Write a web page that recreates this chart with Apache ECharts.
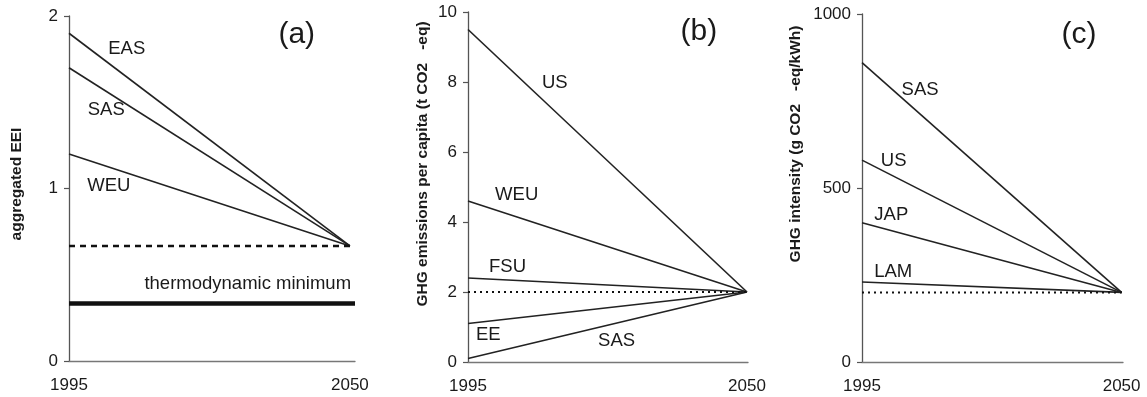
<!DOCTYPE html>
<html>
<head>
<meta charset="utf-8">
<script src="https://cdn.jsdelivr.net/npm/echarts@6/dist/echarts.min.js"></script>
<style>html,body{margin:0;padding:0;background:#fff}#c{width:1147px;height:397px}</style>
</head>
<body>
<div id="c"></div>
<script>
// ---- data ----
const years = [1995, 2050];
const xTickLabels = [1995, 2050];

// panel (a): aggregated EEI
const aNames = ['EAS', 'SAS', 'WEU'];
const aValues = [[1.90, 0.667], [1.70, 0.667], [1.20, 0.667]];
const aTarget = 0.667;
const aThermoMin = 0.333;
const aLabels = [['EAS', 2006.3, 1.81], ['SAS', 2002.3, 1.455], ['WEU', 2002.8, 1.017], ['thermodynamic minimum', 2030, 0.446]];
const aTag = ['(a)', 2039.6, 1.89];

// panel (b): GHG emissions per capita
const bNames = ['US', 'WEU', 'FSU', 'EE', 'SAS'];
const bValues = [[9.5, 2], [4.6, 2], [2.4, 2], [1.1, 2], [0.1, 2]];
const bTarget = 2;
const bLabels = [['US', 2012.1, 7.96], ['WEU', 2004.6, 4.77], ['FSU', 2002.8, 2.72], ['EE', 1999, 0.77], ['SAS', 2024.3, 0.61]];
const bTag = ['(b)', 2040.5, 9.44];

// panel (c): GHG intensity
const cNames = ['SAS', 'US', 'JAP', 'LAM'];
const cValues = [[860, 200], [580, 200], [400, 200], [230, 200]];
const cTarget = 200;
const cLabels = [['SAS', 2007.3, 782], ['US', 2001.7, 579], ['JAP', 2001.2, 423], ['LAM', 2001.6, 260]];
const cTag = ['(c)', 2041, 940];

const yTitles = ['aggregated EEI', 'GHG emissions per capita (t CO2   -eq)', 'GHG intensity (g CO2   -eq/kWh)'];

// ---- styles ----
const FONT = '"Liberation Sans", Arial, Helvetica, sans-serif';
const TXT = '#1a1a1a';
const LINE = '#222';
const AX = '#555';

const panels = [
  {grid: {left: 69, top: 16, width: 286, height: 345}, xmax: 2051, hEnd: 2051, ymax: 2, yint: 1,
   names: aNames, values: aValues, target: aTarget, targetType: [6, 5], targetWidth: 2.4, labels: aLabels, tag: aTag},
  {grid: {left: 468, top: 12, width: 280, height: 350}, xmax: 2050.2, hEnd: 2050, ymax: 10, yint: 2,
   names: bNames, values: bValues, target: bTarget, targetType: [2, 4], targetWidth: 2, labels: bLabels, tag: bTag},
  {grid: {left: 862, top: 14, width: 261, height: 348}, xmax: 2050.3, hEnd: 2050, ymax: 1000, yint: 500,
   names: cNames, values: cValues, target: cTarget, targetType: [2, 4], targetWidth: 2, labels: cLabels, tag: cTag}
];

const grid = [], xAxis = [], yAxis = [], series = [];
panels.forEach((p, i) => {
  grid.push(p.grid);
  xAxis.push({
    type: 'value', gridIndex: i, min: 1995, max: p.xmax,
    splitLine: {show: false}, axisTick: {show: false},
    axisLine: {show: true, lineStyle: {color: '#777', width: 1.3}},
    axisLabel: {customValues: xTickLabels, margin: 16, color: TXT, fontFamily: FONT, fontSize: 17, formatter: v => String(v)}
  });
  yAxis.push({
    type: 'value', gridIndex: i, min: 0, max: p.ymax, interval: p.yint,
    splitLine: {show: false},
    axisLine: {show: true, lineStyle: {color: AX, width: 1.3}},
    axisTick: {show: true, length: 5, lineStyle: {color: AX, width: 1.2}},
    axisLabel: {margin: 11, color: TXT, fontFamily: FONT, fontSize: 17, formatter: v => String(v)}
  });
  p.names.forEach((n, k) => {
    series.push({
      type: 'line', name: n, xAxisIndex: i, yAxisIndex: i, silent: true,
      symbol: 'none', data: years.map((y, j) => [y, p.values[k][j]]),
      lineStyle: {color: LINE, width: 1.6}
    });
  });
  series.push({
    type: 'line', xAxisIndex: i, yAxisIndex: i, silent: true, symbol: 'none',
    data: [[1995, p.target], [p.hEnd, p.target]],
    lineStyle: {color: '#111', width: p.targetWidth, type: p.targetType}
  });
  series.push({
    type: 'scatter', xAxisIndex: i, yAxisIndex: i, silent: true, symbolSize: 0,
    itemStyle: {opacity: 1},
    data: p.labels.map(l => ({name: l[0], value: [l[1], l[2]]})),
    label: {show: true, position: 'inside', formatter: '{b}', color: TXT, opacity: 1, fontFamily: FONT, fontSize: 18.5}
  });
  series.push({
    type: 'scatter', xAxisIndex: i, yAxisIndex: i, silent: true, symbolSize: 0,
    itemStyle: {opacity: 1},
    data: [{name: p.tag[0], value: [p.tag[1], p.tag[2]]}],
    label: {show: true, position: 'inside', formatter: '{b}', color: TXT, opacity: 1, fontFamily: FONT, fontSize: 30}
  });
});
// thermodynamic minimum (panel a)
series.push({
  type: 'line', xAxisIndex: 0, yAxisIndex: 0, silent: true, symbol: 'none',
  data: [[1995, aThermoMin], [2051, aThermoMin]],
  lineStyle: {color: '#111', width: 4.5}
});

const titlePos = [[17, 184], [423, 164], [796, 144]];
const graphic = yTitles.map((t, i) => ({
  type: 'text', x: titlePos[i][0], y: titlePos[i][1], rotation: Math.PI / 2,
  style: {text: t, fill: TXT, font: 'bold 15.5px ' + FONT, align: 'center', verticalAlign: 'middle'}
}));

const chart = echarts.init(document.getElementById('c'), null, {renderer: 'canvas'});
chart.setOption({animation: false, backgroundColor: '#fff', grid, xAxis, yAxis, series, graphic});
</script>
</body>
</html>
